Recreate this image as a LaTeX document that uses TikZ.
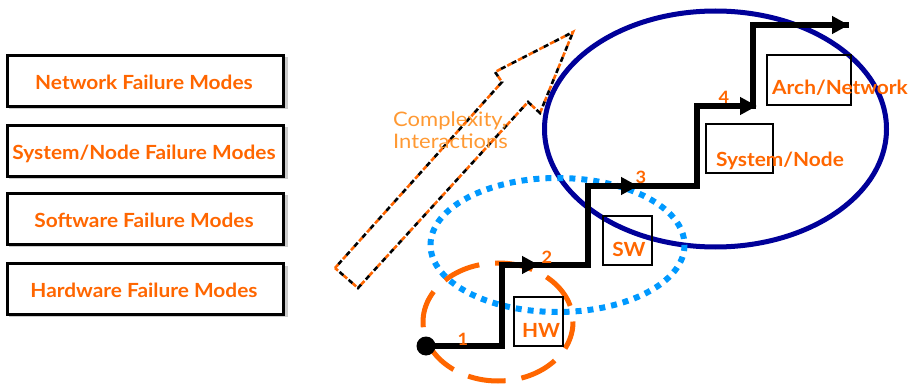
\documentclass[tikz,border=0pt]{standalone}
\usepackage{fontspec}
\setmainfont{Lato}
\newfontfamily\lblfont[FakeStretch=1.07]{Lato}
\newfontfamily\cxfont[FakeStretch=1.1]{Lato}
\usetikzlibrary{arrows.meta}
\definecolor{lorange}{RGB}{255,102,0}
\definecolor{lightorange}{RGB}{255,153,51}
\definecolor{dotblue}{RGB}{0,153,255}
\definecolor{navy}{RGB}{0,0,153}
\tikzset{
  fmbox/.style={draw=black,line width=3.5pt,minimum width=276pt,minimum height=51pt,inner sep=0pt,fill=white},
  fmtext/.style={anchor=base,inner sep=0pt,font=\lblfont\bfseries\fontsize{19.5}{21}\selectfont,text=lorange},
  lvlbox/.style={draw=black,line width=1.4pt,inner sep=0pt},
  lvltext/.style={anchor=base,inner sep=0pt,font=\lblfont\bfseries\fontsize{19.5}{21}\selectfont,text=lorange},
  numlbl/.style={anchor=base,inner sep=0pt,font=\lblfont\bfseries\fontsize{17}{19}\selectfont,text=lorange},
  stair/.style={line width=6pt,black},
  tip/.style={line width=6pt,-{Triangle[length=17pt,width=17pt]}},
  arrdash/.style={line width=2.6pt,dash pattern=on 5pt off 7pt},
}
\begin{document}
\begin{tikzpicture}[x=1pt,y=-1pt]
\useasboundingbox (0,0) rectangle (914,385);
% left boxes with shadow
\foreach \y in {81,151,219,289}{
  \fill[gray!40] (9,\y-23.5) rectangle (288,\y+28);
}
\node[fmbox] (net) at (145.5,81) {};
\node[fmbox] (sys) at (145.5,151) {};
\node[fmbox] (sw)  at (145.5,219) {};
\node[fmbox] (hw)  at (145.5,289) {};
\node[fmtext] (tnet) at (144,90) {Network Failure Modes};
\node[fmtext] (tsys) at (144,160) {System/Node Failure Modes};
\node[fmtext] (tsw)  at (144,228) {Software Failure Modes};
\node[fmtext] (thw)  at (144,297) {Hardware Failure Modes};

% dashed big arrow
\coordinate (a1) at (335,268);
\coordinate (a2) at (502,82);
\coordinate (a3) at (495,72);
\coordinate (a4) at (573,32);
\coordinate (a5) at (540,113);
\coordinate (a6) at (528,102);
\coordinate (a7) at (358,288);
\draw[lorange,arrdash] (a1)--(a2)--(a3)--(a4)--(a5)--(a6)--(a7)--cycle;
\draw[black,arrdash,dash phase=7pt] (a1)--(a2)--(a3)--(a4)--(a5)--(a6)--(a7)--cycle;
\node[font=\cxfont\fontsize{20}{21.5}\selectfont,text=lightorange,align=left,anchor=north west,inner sep=0pt] (cx) at (393,112) {Complexity,\\Interactions};

% ellipses
\draw[navy,line width=5pt] (715.5,129) ellipse [x radius=171,y radius=118];
\draw[lorange,line width=5pt,dash pattern=on 38pt off 16pt,dash phase=10pt] (498,322) ellipse [x radius=75,y radius=59];
\draw[dotblue,line width=6pt,dash pattern=on 6pt off 6pt] (557.5,245) ellipse [x radius=127,y radius=67];

% level boxes
\node[lvlbox,minimum width=49pt,minimum height=49pt] (hwb) at (538.5,321.5) {};
\node[lvltext] (thwb) at (541,337) {HW};
\node[lvlbox,minimum width=49pt,minimum height=49pt] (swb) at (627.5,240.5) {};
\node[lvltext] (tswb) at (629,256) {SW};
\node[lvlbox,minimum width=67pt,minimum height=49pt] (snb) at (739.5,148.5) {};
\node[lvltext] (tsnb) at (780,167) {System/Node};
\node[lvlbox,minimum width=84pt,minimum height=50pt] (anb) at (809,80) {};
\node[lvltext] (tanb) at (840,95) {Arch/Network};

% staircase
\coordinate (s0) at (426,346);
\coordinate (c1) at (502,346);
\coordinate (c2) at (502,265);
\coordinate (c3) at (588,265);
\coordinate (c4) at (588,186);
\coordinate (c5) at (697,186);
\coordinate (c6) at (697,106);
\coordinate (c7) at (753,106);
\coordinate (c8) at (753,25);
\coordinate (e) at (849,25);
\draw[stair,line join=miter] (s0)--(c1)--(c2)--(c3)--(c4)--(c5)--(c6)--(c7)--(c8)--(e);
\coordinate (t2) at (539,265);
\coordinate (t3) at (638,186);
\coordinate (t4) at (757,106);
\draw[tip] (c2)--(t2);
\draw[tip] (c4)--(t3);
\draw[tip] (c6)--(t4);
\draw[tip] (c8)--(e);
\node[circle,fill=black,minimum size=19pt,inner sep=0pt] (dot) at (s0) {};

% numbers
\node[numlbl] (n1) at (463,345) {1};
\node[numlbl] (n2) at (547,264) {2};
\node[numlbl] (n3) at (641,184) {3};
\node[numlbl] (n4) at (724,104) {4};
\end{tikzpicture}
\end{document}
